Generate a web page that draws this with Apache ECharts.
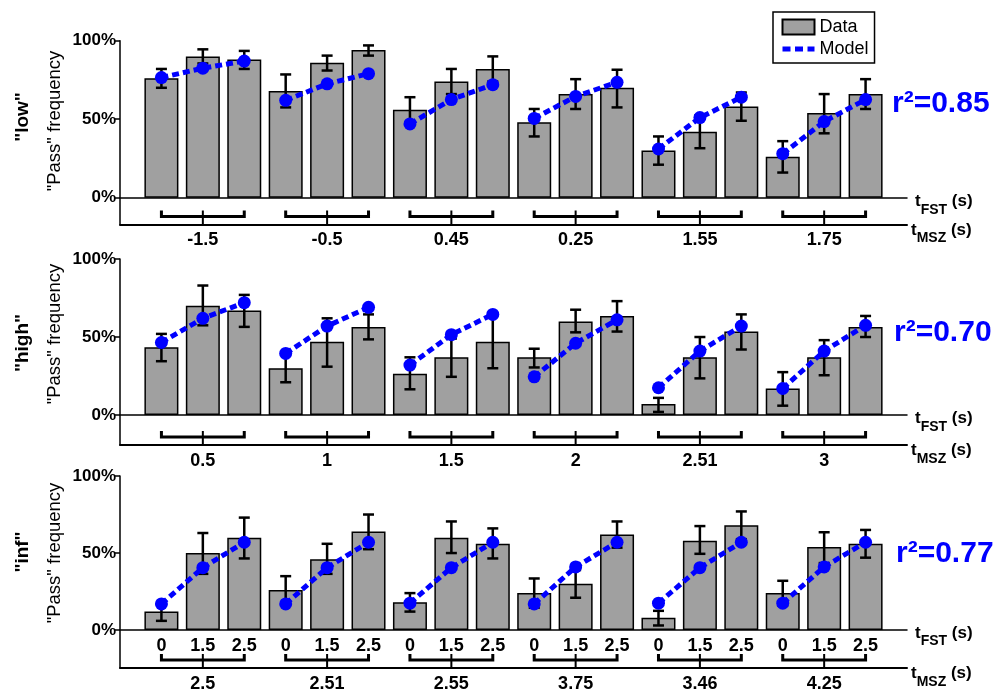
<!DOCTYPE html>
<html>
<head>
<meta charset="utf-8">
<script src="https://cdn.jsdelivr.net/npm/echarts@6/dist/echarts.min.js"></script>
<style>
  html, body { margin: 0; padding: 0; background: #fff; }
  #chart { width: 998px; height: 693px; }
</style>
</head>
<body>
<div id="chart"></div>
<script>
// ---------- data ----------
const panelNames = ['"low"', '"high"', '"inf"'];
const r2Values = ['0.85', '0.70', '0.77'];
const fstTicks = ['0', '1.5', '2.5'];

const lowGroups = ['-1.5', '-0.5', '0.45', '0.25', '1.55', '1.75'];
const lowBars = [76, 90, 88, 68, 86, 94, 56, 74, 82, 48, 66, 70, 30, 42, 58, 26, 54, 66];
const lowErrLo = [70, 85.5, 82, 57.5, 81, 90.5, 48, 66, 74, 39, 56.5, 57.5, 21, 31.5, 49, 16, 41, 56.5];
const lowErrHi = [82, 94.5, 93.5, 78.5, 90.5, 97, 64, 82, 90, 56.5, 75.5, 81.5, 39, 52.5, 67, 36, 66, 75.5];
const lowModel = [76.5, 82.5, 87, 62, 72.5, 79, 47, 62.5, 72, 50.5, 64.5, 73.5, 31, 51, 64, 28, 48.5, 62.5];

const highGroups = ['0.5', '1', '1.5', '2', '2.51', '3'];
const highBars = [43.5, 70, 67, 30, 47, 56.5, 26.5, 37, 47, 37, 60, 63.5, 7, 37, 53.5, 17, 37, 56.5];
const highErrLo = [34.5, 57.5, 56.5, 21, 31, 48.5, 16.5, 24.5, 30, 30.5, 53, 53.5, 2, 23.5, 42, 6, 25.5, 50];
const highErrHi = [52, 83, 77, 39, 62, 64.5, 37, 49, 64, 42.5, 67.5, 73, 11, 50, 64.5, 27.5, 48, 63.5];
const highModel = [46.5, 62, 72, 39.5, 57, 69, 32, 51.5, 64.5, 24.5, 46, 61, 17.5, 41, 57, 17, 41, 57.5];

const infGroups = ['2.5', '2.51', '2.55', '3.75', '3.46', '4.25'];
const infBars = [12, 50, 60, 26, 46, 64, 18, 60, 56, 24, 30, 62, 8, 58, 68, 24, 54, 56];
const infErrLo = [6, 36.5, 46.5, 17, 36.5, 52.5, 12, 50, 46.5, 14.5, 21, 53.5, 3, 49.5, 59, 16, 43.5, 47];
const infErrHi = [17.5, 63, 73, 35, 56, 75, 24, 70.5, 66, 33.5, 39, 70.5, 12.5, 67.5, 77, 32, 63.5, 65];
const infModel = [17, 40.5, 57, 17, 40.5, 57, 17.5, 40.5, 57, 17, 41, 57, 17.5, 40.5, 57, 17.5, 41, 57];

const yTicks = [0, 50, 100];

// ---------- layout / style ----------
const FONT = '"Liberation Sans", Arial, Helvetica, sans-serif';
const panels = [
  { groups: lowGroups, bars: lowBars, lo: lowErrLo, hi: lowErrHi, model: lowModel,
    top: 40.7, height: 183.8, ymin: -17.1, showFst: false },
  { groups: highGroups, bars: highBars, lo: highErrLo, hi: highErrHi, model: highModel,
    top: 259, height: 186, ymin: -19.2, showFst: false },
  { groups: infGroups, bars: infBars, lo: infErrLo, hi: infErrHi, model: infModel,
    top: 476, height: 195, ymin: -24.6, showFst: true }
];
const sideLabelPos = [
  { name: [23, 117], pass: [54.5, 121], r2: [892, 104] },
  { name: [23, 343], pass: [54.5, 334], r2: [894, 333] },
  { name: [23, 552], pass: [54.5, 553], r2: [896, 554] }
];

const nameRich = {
  a: { fontSize: 17, fontWeight: 'bold', fontFamily: FONT, color: '#000', verticalAlign: 'top' },
  s: { fontSize: 14, fontWeight: 'bold', fontFamily: FONT, color: '#000', padding: [10, 0, 0, 0] }
};

const grid = [], xAxis = [], yAxis = [], series = [];

function renderErr(params, api) {
  const x = api.value(0), lo = api.value(1), hi = api.value(2);
  const p1 = api.coord([x, lo]), p2 = api.coord([x, hi]);
  const hw = 5.5;
  const style = { stroke: '#000', lineWidth: 2.5 };
  return { type: 'group', children: [
    { type: 'line', shape: { x1: p1[0], y1: p1[1], x2: p2[0], y2: p2[1] }, style: style },
    { type: 'line', shape: { x1: p1[0] - hw, y1: p1[1], x2: p1[0] + hw, y2: p1[1] }, style: style },
    { type: 'line', shape: { x1: p2[0] - hw, y1: p2[1], x2: p2[0] + hw, y2: p2[1] }, style: style }
  ]};
}

function renderBracket(params, api) {
  const c = api.value(0);
  const cs = params.coordSys;
  const by = cs.y + cs.height;
  const xl = api.coord([c - 1, 0])[0];
  const xc = api.coord([c, 0])[0];
  const xr = api.coord([c + 1, 0])[0];
  const yh = by - 8, yt = by - 14;
  return { type: 'group', children: [
    { type: 'polyline', shape: { points: [[xl, yt], [xl, yh], [xr, yh], [xr, yt]] },
      style: { stroke: '#000', lineWidth: 3, fill: null, lineJoin: 'miter' } },
    { type: 'line', shape: { x1: xc, y1: yt, x2: xc, y2: by },
      style: { stroke: '#000', lineWidth: 2 } }
  ]};
}

panels.forEach(function (p, k) {
  grid.push({ left: 120, right: 91, top: p.top, height: p.height });
  const centers = p.groups.map(function (g, i) { return i * 3 + 2; });
  const zeroOffset = p.height * (-p.ymin) / (100 - p.ymin);
  // x axis drawn on the zero line
  xAxis.push({
    type: 'value', gridIndex: k, min: 0, max: 19, position: 'bottom', offset: -zeroOffset,
    axisLine: { onZero: false, lineStyle: { color: '#000', width: 1.5 } },
    axisTick: { show: false }, splitLine: { show: false },
    axisLabel: p.showFst ? {
      customValues: p.bars.map(function (v, i) { return i + 1; }),
      formatter: function (v) { return fstTicks[(Math.round(v) - 1) % 3]; },
      color: '#000', fontSize: 18, fontWeight: 'bold', fontFamily: FONT, margin: 8
    } : { show: false },
    name: '{a|t}{s|FST}{a| (s)}', nameLocation: 'end', nameGap: 8,
    nameTextStyle: { rich: nameRich, padding: [14, 0, 0, 0] }
  });
  // bottom axis with group labels
  xAxis.push({
    type: 'value', gridIndex: k, min: 0, max: 19, position: 'bottom',
    axisLine: { onZero: false, lineStyle: { color: '#000', width: 2 } },
    axisTick: { show: false }, splitLine: { show: false },
    axisLabel: {
      customValues: centers,
      formatter: function (v) { return p.groups[Math.round((v - 2) / 3)]; },
      color: '#000', fontSize: 18, fontWeight: 'bold', fontFamily: FONT, margin: 7
    },
    name: '{a|t}{s|MSZ}{a| (s)}', nameLocation: 'end', nameGap: 4,
    nameTextStyle: { rich: nameRich, padding: [18, 0, 0, 0] }
  });
  yAxis.push({
    type: 'value', gridIndex: k, min: p.ymin, max: 100,
    axisLine: { show: true, lineStyle: { color: '#000', width: 1.5 } },
    axisTick: { show: true, customValues: yTicks, length: 5, lineStyle: { color: '#000', width: 1.5 } },
    axisLabel: { customValues: yTicks, formatter: function (v) { return v + '%'; },
      color: '#000', fontSize: 17, fontWeight: 'bold', fontFamily: FONT, margin: 4 },
    splitLine: { show: false }
  });
  const xa1 = k * 2 + 1;
  series.push({
    name: 'Data', type: 'bar', xAxisIndex: xa1, yAxisIndex: k, barWidth: 34, z: 2,
    itemStyle: { color: '#a0a0a0', borderColor: '#000', borderWidth: 1.5 },
    data: p.bars.map(function (v, i) { return [i + 1, v]; }),
    animation: false
  });
  series.push({
    type: 'custom', xAxisIndex: xa1, yAxisIndex: k, z: 3,
    renderItem: renderErr, encode: { x: 0, y: [1, 2] },
    data: p.bars.map(function (v, i) { return [i + 1, p.lo[i], p.hi[i]]; }),
    animation: false, silent: true
  });
  series.push({
    type: 'custom', xAxisIndex: xa1, yAxisIndex: k, z: 2, clip: false,
    renderItem: renderBracket, encode: { x: 0, y: 1 },
    data: centers.map(function (c) { return [c, 0]; }),
    animation: false, silent: true
  });
  for (let g = 0; g < p.groups.length; g++) {
    series.push({
      name: 'Model', type: 'line', xAxisIndex: xa1, yAxisIndex: k, z: 4,
      symbol: 'circle', symbolSize: 13,
      itemStyle: { color: '#0000ff' },
      lineStyle: { color: '#0000ff', width: 5, type: [7, 4] },
      data: [0, 1, 2].map(function (j) { const i = g * 3 + j; return [i + 1, p.model[i]]; }),
      animation: false
    });
  }
});

const graphic = [];
panels.forEach(function (p, k) {
  const pos = sideLabelPos[k];
  graphic.push({ type: 'text', x: pos.name[0], y: pos.name[1], rotation: Math.PI / 2,
    style: { text: panelNames[k], fontSize: 19, fontWeight: 'bold', fontFamily: FONT, fill: '#000', align: 'center', verticalAlign: 'middle' } });
  graphic.push({ type: 'text', x: pos.pass[0], y: pos.pass[1], rotation: Math.PI / 2,
    style: { text: '"Pass" frequency', fontSize: 18.5, fontFamily: FONT, fill: '#000', align: 'center', verticalAlign: 'middle' } });
  graphic.push({ type: 'text', x: pos.r2[0], y: pos.r2[1],
    style: { text: 'r\u00b2=' + r2Values[k], fontSize: 30, fontWeight: 'bold', fontFamily: FONT, fill: '#0000ff', align: 'left', verticalAlign: 'middle' } });
});

const chart = echarts.init(document.getElementById('chart'), null, { renderer: 'canvas' });
chart.setOption({
  animation: false,
  backgroundColor: '#fff',
  grid: grid, xAxis: xAxis, yAxis: yAxis, series: series, graphic: graphic,
  legend: {
    left: 773, top: 12, orient: 'vertical', padding: [6, 6, 5, 7],
    itemWidth: 32, itemHeight: 15, itemGap: 4,
    borderColor: '#000', borderWidth: 1.5, backgroundColor: '#fff',
    selectedMode: false,
    textStyle: { fontSize: 18, fontFamily: FONT, color: '#000', lineHeight: 18 },
    data: [
      { name: 'Data', icon: 'rect' },
      { name: 'Model', itemStyle: { opacity: 0 }, lineStyle: { width: 5, type: [8, 4.5], color: '#0000ff' } }
    ]
  }
});
</script>
</body>
</html>
